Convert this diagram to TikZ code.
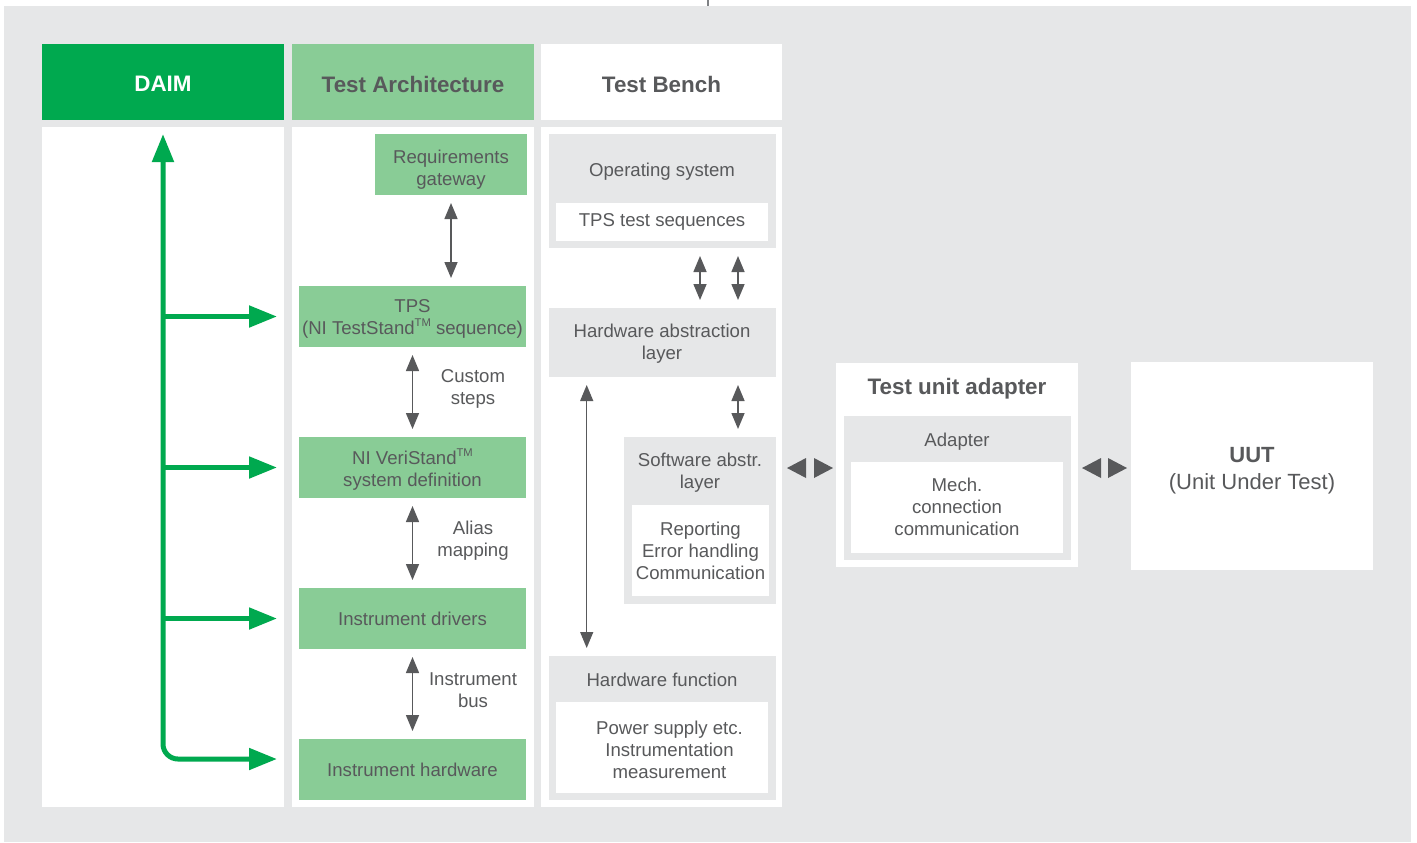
\documentclass[tikz,border=0pt]{standalone}
\usepackage{fontspec}
\setmainfont{Liberation Sans}
\usetikzlibrary{arrows.meta,calc,fit}
\definecolor{bggray}{HTML}{E6E7E8}
\definecolor{dgreen}{HTML}{00A94F}
\definecolor{lgreen}{HTML}{89CC96}
\definecolor{txt}{HTML}{58595B}
\definecolor{arr}{HTML}{58595B}
\definecolor{tick}{HTML}{808285}
\newcommand{\tmark}{\raisebox{0.42em}{\fontsize{5.6}{6}\selectfont TM}}
\begin{document}
\begin{tikzpicture}[x=0.5pt,y=-0.5pt,
  box/.style={inner sep=0pt, outer sep=0pt, fill=#1},
  lbl/.style={text=txt, font=\fontsize{9.3}{11}\selectfont, align=center, inner sep=0pt, yshift=-0.6pt},
  hdr/.style={text=txt, font=\fontsize{11.2}{13}\selectfont\bfseries, align=center, inner sep=0pt, yshift=-0.5pt},
  darr/.style={draw=arr, line width=0.75pt, {Triangle[length=8pt,width=6.5pt]}-{Triangle[length=8pt,width=6.5pt]}, shorten <=4pt, shorten >=4pt},
  garr/.style={draw=dgreen, line width=2.5pt},
  gtip/.tip={Triangle[length=14pt,width=10.5pt]}
]
\useasboundingbox (0,0) rectangle (1417,842);
\fill[white] (0,0) rectangle (1417,842);
\fill[bggray] (4,6) rectangle (1411,842);
\draw[tick, line width=1pt] (708,0) -- (708,6);

% headers
\node[box=dgreen, fit={(42,44)(284,120)}] (daimH) {};
\node[box=lgreen, fit={(292,44)(534,120)}] (archH) {};
\node[box=white, fit={(541,44)(782,120)}] (benchH) {};
\node[hdr, text=white] (daimT) at (163,83) {DAIM};
\node[hdr] (archT) at (413,83) {Test Architecture};
\node[hdr] (benchT) at (661.5,83) {Test Bench};

% column bodies
\node[box=white, fit={(42,127)(284,807)}] (daimB) {};
\node[box=white, fit={(292,127)(534,807)}] (archB) {};
\node[box=white, fit={(541,127)(782,807)}] (benchB) {};

% test architecture boxes
\node[box=lgreen, fit={(375,134)(527,195)}] (req) {};
\node[box=lgreen, fit={(299,286)(526,347)}] (tps) {};
\node[box=lgreen, fit={(299,437)(526,498)}] (vs) {};
\node[box=lgreen, fit={(299,588)(526,649)}] (drv) {};
\node[box=lgreen, fit={(299,739)(526,800)}] (hw) {};
\node[lbl] (reqT) at (451,168) {Requirements\\gateway};
\node[lbl] (tpsT) at (412.5,317.5) {TPS\\(NI TestStand\tmark{} sequence)};
\node[lbl] (vsT) at (412.5,468.5) {NI VeriStand\tmark\\system definition};
\node[lbl] (drvT) at (412.5,618) {Instrument drivers};
\node[lbl] (hwT) at (412.5,769) {Instrument hardware};
\node[lbl] (csT) at (473,387.5) {Custom\\steps};
\node[lbl] (amT) at (473,539) {Alias\\mapping};
\node[lbl] (ibT) at (473,689) {Instrument\\bus};

\draw[darr] (req.south) -- (req.south |- tps.north);
\draw[darr] (tps.south) -- (vs.north);
\draw[darr] (vs.south) -- (drv.north);
\draw[darr] (drv.south) -- (hw.north);

% test bench boxes
\node[box=bggray, fit={(549,134)(776,248)}] (os) {};
\node[box=white, fit={(556,203)(768,241)}] (seq) {};
\node[box=bggray, fit={(549,308)(776,377)}] (hal) {};
\node[box=bggray, fit={(624,437)(776,604)}] (sal) {};
\node[box=white, fit={(632,505)(769,596)}] (rep) {};
\node[box=bggray, fit={(549,656)(776,800)}] (hwf) {};
\node[box=white, fit={(556,702)(768,793)}] (pwr) {};
\node[lbl] (osT) at (662,170) {Operating system};
\node[lbl] (seqT) at (662,221) {TPS test sequences};
\node[lbl] (halT) at (662,342) {Hardware abstraction\\layer};
\node[lbl] (salT) at (700,471) {Software abstr.\\layer};
\node[lbl] (repT) at (700.5,550) {Reporting\\Error handling\\Communication};
\node[lbl] (hwfT) at (662,679) {Hardware function};
\node[lbl] (pwrT) at (669.5,749) {Power supply etc.\\Instrumentation\\measurement};

\draw[darr] ($(os.south)+(37.5,0)$) -- ($(hal.north)+(37.5,0)$);
\draw[darr] ($(os.south)+(75.5,0)$) -- ($(hal.north)+(75.5,0)$);
\draw[darr] ($(hal.south)+(75.5,0)$) -- ($(sal.north)+(38,0)$);
\draw[darr, line width=0.6pt] ($(hal.south)+(-75.8,0)$) -- ($(hwf.north)+(-75.8,0)$);

% test unit adapter
\node[box=white, fit={(836,363)(1078,567)}] (tua) {};
\node[box=bggray, fit={(844,416)(1071,560)}] (adp) {};
\node[box=white, fit={(851,462)(1063,553)}] (mech) {};
\node[hdr] (tuaT) at (957,388) {Test unit adapter};
\node[lbl] (adpT) at (957,440) {Adapter};
\node[lbl] (mechT) at (957,506) {Mech.\\connection\\communication};

% UUT
\node[box=white, fit={(1131,362)(1373,570)}] (uut) {};
\node[text=txt, font=\fontsize{11}{13.5}\selectfont, align=center, inner sep=0pt, yshift=-0.8pt] (uutT) at (1252,469.5) {\textbf{UUT}\\(Unit Under Test)};

% interface triangles
\fill[arr] (806,458) -- (806,478) -- (787,468) -- cycle;
\fill[arr] (814,458) -- (814,478) -- (833,468) -- cycle;
\fill[arr] (1101,458) -- (1101,478) -- (1082,468) -- cycle;
\fill[arr] (1108,458) -- (1108,478) -- (1127,468) -- cycle;

% DAIM green arrows
\coordinate (daimtop) at (163,134);
\coordinate (hwtip) at (277,759);
\draw[garr, {gtip}-{gtip}, rounded corners=7.5pt] (hwtip) -| (daimtop);
\draw[garr, -{gtip}, shorten >=11pt] (daimtop |- tps.west) -- (tps.west);
\draw[garr, -{gtip}, shorten >=11pt] (daimtop |- vs.west) -- (vs.west);
\draw[garr, -{gtip}, shorten >=11pt] (daimtop |- drv.west) -- (drv.west);
\end{tikzpicture}
\end{document}
